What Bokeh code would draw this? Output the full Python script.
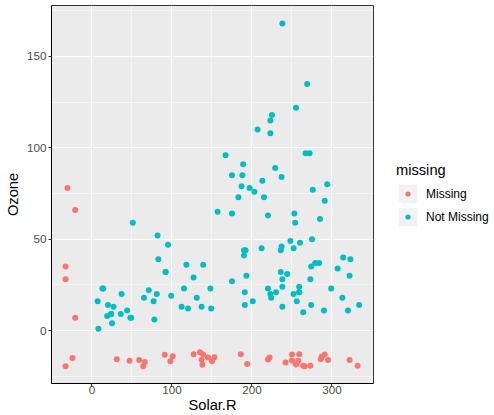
from bokeh.plotting import figure
from bokeh.models import Range1d, FixedTicker, Legend, LegendItem
from bokeh.layouts import row
from bokeh.embed import file_html
from bokeh.resources import INLINE

# airquality: Ozone and Solar.R (None = missing)
ozone = [41, 36, 12, 18, None, 28, 23, 19, 8, None,
         7, 16, 11, 14, 18, 14, 34, 6, 30, 11,
         1, 11, 4, 32, None, None, None, 23, 45, 115,
         37, None, None, None, None, None, None, 29, None, 71,
         39, None, None, 23, None, None, 21, 37, 20, 12,
         13, None, None, None, None, None, None, None, None, None,
         None, 135, 49, 32, None, 64, 40, 77, 97, 97,
         85, None, 10, 27, None, 7, 48, 35, 61, 79,
         63, 16, None, None, 80, 108, 20, 52, 82, 50,
         64, 59, 39, 9, 16, 78, 35, 66, 122, 89,
         110, None, None, 44, 28, 65, None, 22, 59, 23,
         31, 44, 21, 9, None, 45, 168, 73, None, 76,
         118, 84, 85, 96, 78, 73, 91, 47, 32, 20,
         23, 21, 24, 44, 21, 28, 9, 13, 46, 18,
         13, 24, 16, 13, 23, 36, 7, 14, 30, None,
         14, 18, 20]
solar = [190, 118, 149, 313, None, None, 299, 99, 19, 194,
         None, 256, 290, 274, 65, 334, 307, 78, 322, 44,
         8, 320, 25, 92, 66, 266, None, 13, 252, 223,
         279, 286, 287, 242, 186, 220, 264, 127, 273, 291,
         323, 259, 250, 148, 332, 322, 191, 284, 37, 120,
         137, 150, 59, 91, 250, 135, 127, 47, 98, 31,
         138, 269, 248, 236, 101, 175, 314, 276, 267, 272,
         175, 139, 264, 175, 291, 48, 260, 274, 285, 187,
         220, 7, 258, 295, 294, 223, 81, 82, 213, 275,
         253, 254, 83, 24, 77, None, None, None, 255, 229,
         207, 222, 137, 192, 273, 157, 64, 71, 51, 115,
         244, 190, 259, 36, 255, 212, 238, 215, 153, 203,
         225, 237, 188, 167, 197, 183, 189, 95, 92, 252,
         220, 230, 259, 236, 259, 238, 24, 112, 237, 224,
         27, 238, 201, 238, 14, 139, 49, 20, 193, 145,
         191, 131, 223]

# plotted (shifted, jittered) positions of missing values
ozone_na_rows = [5, 10, 25, 26, 27, 32, 33, 34, 35, 36, 37, 39, 42, 43, 45, 46,
                 52, 53, 54, 55, 56, 57, 58, 59, 60, 61, 65, 72, 75, 83, 84,
                 102, 103, 107, 115, 119, 150]
ozone_na_y = [-15.0, -18.3, -17.3, -19.5, -19.5, -15.7, -14.4, -17.5, -13.0, -15.9,
              -19.3, -19.3, -13.0, -13.1, -19.3, -16.2,
              -16.8, -16.2, -13.3, -16.4, -11.9, -13.0, -16.6, -16.8, -15.7, -18.8,
              -14.1, -13.1, -13.1, -16.6, -16.2,
              -14.8, -16.0, -19.5, -18.6, -14.6, -14.8]
solar_na_rows = [5, 6, 11, 27, 96, 97, 98]
solar_na_x = [-24.4, -33.0, -21.0, -33.0, -30.6, -33.0, -21.0]

legend_title = "missing"
legend_labels = ["Missing", "Not Missing"]
colors = ["#F8766D", "#00BFC4"]

oz_shift = dict(zip(ozone_na_rows, ozone_na_y))
so_shift = dict(zip(solar_na_rows, solar_na_x))
mx, my, nx, ny = [], [], [], []
for i, (o, s) in enumerate(zip(ozone, solar), start=1):
    if o is None or s is None:
        mx.append(so_shift[i] if s is None else s)
        my.append(oz_shift[i] if o is None else o)
    else:
        nx.append(s)
        ny.append(o)

FONT = "Liberation Sans"

p = figure(width=374, height=415, output_backend="svg", toolbar_location=None,
           x_range=Range1d(-50.6, 351.9), y_range=Range1d(-29.0, 177.9),
           min_border_left=51, min_border_right=1, min_border_top=5, min_border_bottom=32)
p.background_fill_color = "#EBEBEB"
p.border_fill_color = "white"
p.outline_line_color = "#333333"
p.outline_line_width = 1

p.xaxis.ticker = FixedTicker(ticks=[0, 100, 200, 300], minor_ticks=[-50, 50, 150, 250, 350])
p.yaxis.ticker = FixedTicker(ticks=[0, 50, 100, 150], minor_ticks=[-25, 25, 75, 125, 175])
for g in (p.xgrid, p.ygrid):
    g.grid_line_color = "white"
    g.grid_line_width = 1.1
    g.minor_grid_line_color = "white"
    g.minor_grid_line_width = 0.5

p.xaxis.axis_label = "Solar.R"
p.yaxis.axis_label = "Ozone"
for ax in (p.xaxis, p.yaxis):
    ax.axis_line_color = "black"
    ax.axis_line_width = 1
    ax.major_tick_line_color = "#333333"
    ax.major_tick_out = 3
    ax.major_tick_in = 0
    ax.minor_tick_line_color = None
    ax.major_label_text_font = FONT
    ax.major_label_text_font_size = "11.7px"
    ax.major_label_text_color = "#4D4D4D"
    ax.axis_label_text_font = FONT
    ax.axis_label_text_font_size = "14.67px"
    ax.axis_label_text_font_style = "normal"
    ax.axis_label_text_color = "black"
p.xaxis.major_label_standoff = -2
p.xaxis.axis_label_standoff = 0
p.yaxis.major_label_standoff = 1
p.yaxis.axis_label_standoff = 3

r_m = p.scatter(mx, my, size=6, fill_color=colors[0], line_color=None)
r_n = p.scatter(nx, ny, size=6, fill_color=colors[1], line_color=None)

# legend panel (its frame is aligned with the plot frame by the row layout)
q = figure(width=120, height=415, output_backend="svg", toolbar_location=None,
           x_range=Range1d(0, 1), y_range=Range1d(0, 1), x_axis_type=None, y_axis_type=None,
           min_border=0)
q.outline_line_color = None
q.background_fill_color = "white"
q.border_fill_color = "white"
q.grid.visible = False
# swatch renderers for the legend keys, placed outside the visible ranges
bg = q.quad(left=[5], right=[6], bottom=[5], top=[6], fill_color="#F2F2F2", line_color=None)
km = q.scatter([5], [5], fill_color=colors[0], line_color=None)
kn = q.scatter([5], [5], fill_color=colors[1], line_color=None)

leg_a = Legend(items=[LegendItem(label=legend_labels[0], renderers=[bg]),
                      LegendItem(label=legend_labels[1], renderers=[bg])],
               title=legend_title, location=(22, 155), margin=0, padding=0, spacing=0,
               glyph_width=23, glyph_height=23, label_height=23, label_standoff=7,
               title_standoff=4, border_line_color=None, background_fill_alpha=0,
               title_text_font=FONT, title_text_font_size="14.67px",
               title_text_color="black", title_text_font_style="normal",
               label_text_font=FONT, label_text_font_size="12px",
               label_text_color="black")
leg_b = Legend(items=[LegendItem(label=" ", renderers=[km]),
                      LegendItem(label=" ", renderers=[kn])],
               location=(27, 160), margin=0, padding=0, spacing=10,
               glyph_width=13, glyph_height=13, label_height=13, label_width=0,
               label_standoff=0, border_line_color=None, background_fill_alpha=0,
               label_text_font_size="12px")
q.add_layout(leg_a)
q.add_layout(leg_b)

open("out.html", "w").write(file_html(row(p, q), INLINE))
